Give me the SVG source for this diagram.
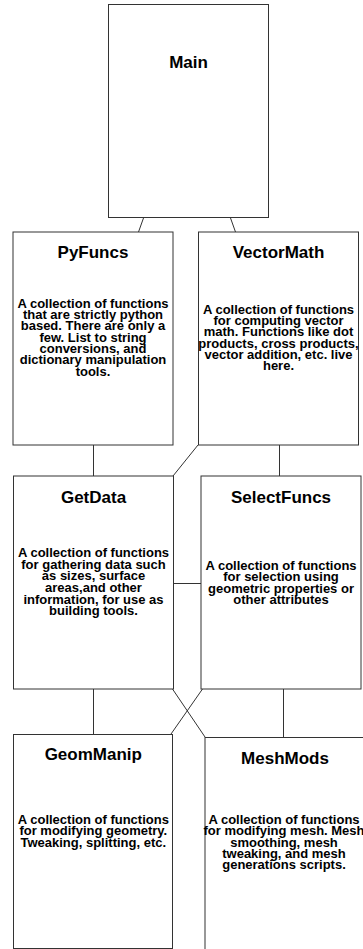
<svg xmlns="http://www.w3.org/2000/svg" width="363" height="949" viewBox="0 0 363 949">
<style>
.box{fill:#fff;stroke:#333;stroke-width:1}
.ln{fill:none;stroke:#333;stroke-width:1}
.t{font-family:"Liberation Sans",Arial,sans-serif;font-weight:bold;font-size:17px;text-anchor:middle;fill:#000}
.b{font-family:"Liberation Sans",Arial,sans-serif;font-weight:bold;font-size:13px;text-anchor:middle;fill:#000}
</style>
<rect width="363" height="949" fill="#fff"/>
<g id="connectors">
<line class="ln" x1="143.5" y1="218" x2="138.5" y2="232"/>
<line class="ln" x1="230.5" y1="218" x2="235.5" y2="232"/>
<line class="ln" x1="93.5" y1="445" x2="93.5" y2="476"/>
<line class="ln" x1="279.5" y1="445" x2="279.5" y2="476"/>
<line class="ln" x1="198" y1="445" x2="173" y2="476"/>
<line class="ln" x1="173" y1="583.5" x2="201" y2="583.5"/>
<line class="ln" x1="93.5" y1="689" x2="93.5" y2="734"/>
<line class="ln" x1="283.5" y1="689" x2="283.5" y2="737"/>
<line class="ln" x1="172.5" y1="689" x2="205" y2="737"/>
<line class="ln" x1="202.5" y1="689" x2="171" y2="734"/>
</g>
<g id="main">
<rect class="box" x="108.5" y="4.5" width="160" height="213"/>
<text class="t" x="188.5" y="68" font-size="16">Main</text>
</g>
<g id="pyfuncs">
<rect class="box" x="13" y="232" width="160" height="213"/>
<text class="t" x="93" y="258">PyFuncs</text>
<text class="b" x="93" y="307.7"><tspan x="93">A collection of functions</tspan><tspan x="93" dy="11.33">that are strictly python</tspan><tspan x="93" dy="11.33">based. There are only a</tspan><tspan x="93" dy="11.33">few. List to string</tspan><tspan x="93" dy="11.33">conversions, and</tspan><tspan x="93" dy="11.33">dictionary manipulation</tspan><tspan x="93" dy="11.33">tools.</tspan></text>
</g>
<g id="vectormath">
<rect class="box" x="198.5" y="232" width="160" height="213"/>
<text class="t" x="278.5" y="258">VectorMath</text>
<text class="b" x="278.5" y="313.7"><tspan x="278.5">A collection of functions</tspan><tspan x="278.5" dy="11.33">for computing vector</tspan><tspan x="278.5" dy="11.33">math. Functions like dot</tspan><tspan x="278.5" dy="11.33">products, cross products,</tspan><tspan x="278.5" dy="11.33">vector addition, etc. live</tspan><tspan x="278.5" dy="11.33">here.</tspan></text>
</g>
<g id="getdata">
<rect class="box" x="13.5" y="476" width="160" height="213"/>
<text class="t" x="93.5" y="503">GetData</text>
<text class="b" x="93.5" y="557"><tspan x="93.5">A collection of functions</tspan><tspan x="93.5" dy="11.66">for gathering data such</tspan><tspan x="93.5" dy="11.66">as sizes, surface</tspan><tspan x="93.5" dy="11.66">areas,and other</tspan><tspan x="93.5" dy="11.66">information, for use as</tspan><tspan x="93.5" dy="11.66">building tools.</tspan></text>
</g>
<g id="selectfuncs">
<rect class="box" x="201" y="476" width="160" height="213"/>
<text class="t" x="281" y="503">SelectFuncs</text>
<text class="b" x="281" y="570"><tspan x="281">A collection of functions</tspan><tspan x="281" dy="11.4">for selection using</tspan><tspan x="281" dy="11.4">geometric properties or</tspan><tspan x="281" dy="11.4">other attributes</tspan></text>
</g>
<g id="geommanip">
<rect class="box" x="13.5" y="734.5" width="159" height="214"/>
<text class="t" x="93.3" y="760">GeomManip</text>
<text class="b" x="93.3" y="824"><tspan x="93.3">A collection of functions</tspan><tspan x="93.3" dy="11.3">for modifying geometry.</tspan><tspan x="93.3" dy="11.3">Tweaking, splitting, etc.</tspan></text>
</g>
<g id="meshmods">
<rect class="box" x="205" y="737.5" width="160" height="214"/>
<text class="t" x="285" y="764">MeshMods</text>
<text class="b" x="284" y="824"><tspan x="284">A collection of functions</tspan><tspan x="284" dy="11.33">for modifying mesh. Mesh</tspan><tspan x="284" dy="11.33">smoothing, mesh</tspan><tspan x="284" dy="11.33">tweaking, and mesh</tspan><tspan x="284" dy="11.33">generations scripts.</tspan></text>
</g>
</svg>
